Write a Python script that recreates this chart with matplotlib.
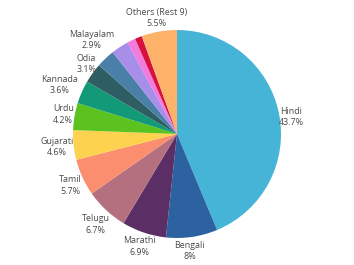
import numpy as np
import matplotlib
matplotlib.use("Agg")
from matplotlib import pyplot as plt

languages = ["Hindi", "Bengali", "Marathi", "Telugu", "Tamil", "Gujarati", "Urdu",
             "Kannada", "Odia", "Malayalam", "Punjabi", "Assamese", "Maithili",
             "Others (Rest 9)"]
shares = [43.7, 8.0, 6.9, 6.7, 5.7, 4.6, 4.2, 3.6, 3.1, 2.9, 2.7, 1.3, 1.1, 5.5]
pct_labels = ["43.7%", "8%", "6.9%", "6.7%", "5.7%", "4.6%", "4.2%",
              "3.6%", "3.1%", "2.9%", "", "", "", "5.5%"]
show_label = [True] * 10 + [False] * 3 + [True]

colors = ["#45b4d6", "#2d62a1", "#5b2f66", "#b4707f", "#fb8e6e", "#fdd24e",
          "#5bc220", "#129a78", "#2e5e63", "#4a7fa8", "#a78ee8", "#f27bdd",
          "#d8103f", "#fdb26a"]
# radial distance / angle nudge of each label (tuned by eye)
label_dist = [1.11, 1.13, 1.14, 1.17, 1.14, 1.16, 1.11, 1.22, 1.10, 1.22,
              1.1, 1.1, 1.1, 1.13]
label_nudge = [-3, -2, 0, 1, 1, 0, 0, 1, -2, -1, 0, 0, 0, 0]

fig = plt.figure(figsize=(3.54, 2.65), dpi=100)
ax = fig.add_axes([73 / 354, 27 / 265, 208 / 354, 208 / 265])

wedges, _ = ax.pie(shares, colors=colors, startangle=90, counterclock=False,
                   wedgeprops=dict(linewidth=0))

for w, name, pct, show, d, nd in zip(wedges, languages, pct_labels, show_label,
                                     label_dist, label_nudge):
    if not show:
        continue
    ang = np.deg2rad((w.theta1 + w.theta2) / 2 + nd)
    x, y = d * np.cos(ang), d * np.sin(ang)
    ax.text(x, y, name + "\n" + pct, ha="center", va="center", fontsize=6.4,
            color="#4a4a4a", family="Open Sans", linespacing=1.35)

ax.set_xlim(-1, 1)
ax.set_ylim(-1, 1)
ax.set_aspect("equal")
ax.axis("off")

fig.savefig("out.png", dpi=100)
